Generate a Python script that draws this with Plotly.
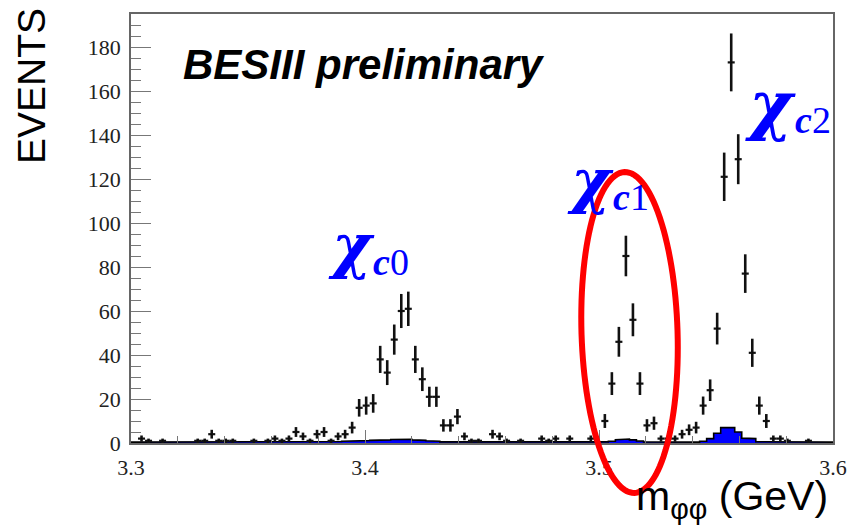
import numpy as np
import plotly.graph_objects as go

# Binning: 100 bins of 3 MeV from 3.3 to 3.6 GeV
x_lo, x_hi, n_bins = 3.3, 3.6, 100

# Event counts per bin (data points)
counts = [
    0, 2, 1, 0, 1, 0, 0, 0, 0, 1,
    1, 4, 1, 1, 1, 0, 0, 1, 0, 1,
    2, 1, 2, 5, 3, 1, 4, 5, 1, 3,
    4, 7, 16, 17, 18, 38, 32, 47, 60, 61,
    38, 29, 21, 21, 8, 8, 12, 3, 1, 1,
    0, 4, 3, 1, 0, 1, 0, 0, 2, 1,
    2, 0, 2, 0, 0, 2, 0, 10, 27, 46,
    85, 56, 27, 8, 9, 2, 2, 2, 4, 6,
    7, 17, 24, 52, 121, 173, 129, 77, 41, 17,
    10, 2, 2, 1, 0, 0, 1, 0, 0, 0,
]

# Background estimate per bin (filled histogram)
background = [
    0.4, 0.4, 0.4, 0.4, 0.4, 0.4, 0.4, 0.4, 0.4, 0.4,
    0.4, 0.4, 0.4, 0.4, 0.4, 0.4, 0.4, 0.4, 0.4, 0.4,
    0.4, 0.4, 0.4, 0.4, 0.4, 0.4, 0.4, 0.4, 0.6, 0.7,
    0.8, 0.9, 1.0, 1.1, 1.2, 1.3, 1.4, 1.6, 1.8, 1.7,
    1.4, 1.2, 1.0, 0.8, 0.5, 0.4, 0.4, 0.4, 0.4, 0.4,
    0.4, 0.4, 0.4, 0.4, 0.4, 0.4, 0.4, 0.4, 0.4, 0.4,
    0.4, 0.4, 0.4, 0.4, 0.4, 0.4, 0.4, 0.5, 0.8, 1.5,
    1.8, 1.4, 0.9, 0.5, 0.4, 0.4, 0.4, 0.4, 0.4, 0.4,
    0.4, 0.8, 2.0, 4.4, 7.0, 7.0, 5.0, 2.2, 2.0, 0.6,
    0.4, 0.4, 0.4, 0.4, 0.4, 0.4, 0.4, 0.4, 0.4, 0.4,
]

x_ticks = [3.3, 3.4, 3.5, 3.6]
y_ticks = [0, 20, 40, 60, 80, 100, 120, 140, 160, 180]

bin_w = (x_hi - x_lo) / n_bins
edges = x_lo + bin_w * np.arange(n_bins + 1)
centers = 0.5 * (edges[:-1] + edges[1:])
counts = np.array(counts, dtype=float)
background = np.array(background, dtype=float)

# Figure geometry (pixels)
W, H = 859, 527
ml, mr, mt, mb = 131, 19, 14, 84
pw, ph = W - ml - mr, H - mt - mb


def px(xp):
    return (xp - ml) / pw


def py(yp):
    return (H - mb - yp) / ph


fig = go.Figure()

# Background: step outline with blue fill
step_x = np.repeat(edges, 2)[1:-1]
step_y = np.repeat(background, 2)
fig.add_trace(go.Scatter(
    x=step_x, y=step_y, mode="lines",
    line=dict(color="black", width=1.6),
    fill="tozeroy", fillcolor="#0000ff",
    hoverinfo="skip", showlegend=False,
))

# Data points with Poisson errors
mask = counts > 0
fig.add_trace(go.Scatter(
    x=centers[mask], y=counts[mask], mode="markers",
    marker=dict(size=1, color="black"),
    error_y=dict(type="data", array=np.sqrt(counts[mask]), color="#111111",
                 thickness=2.6, width=0),
    error_x=dict(type="data", array=np.full(mask.sum(), bin_w / 2),
                 color="#111111", thickness=2.2, width=0),
    showlegend=False,
))

axis_common = dict(
    showline=True, linecolor="#666666", linewidth=1.6, mirror=True,
    ticks="inside", tickcolor="#777777", tickwidth=1.3,
    showgrid=False, zeroline=False,
    tickfont=dict(family="Liberation Serif", size=22, color="#222222"),
)

fig.update_xaxes(
    range=[x_lo, x_hi], tickvals=x_ticks, ticktext=[f"{v:.1f}" for v in x_ticks],
    ticklen=13, ticklabelstandoff=4,
    minor=dict(dtick=0.02, ticks="inside", ticklen=7, tickcolor="#777777", tickwidth=1.2),
    **axis_common,
)
fig.update_yaxes(
    range=[0, 195], tickvals=y_ticks, ticktext=[str(v) for v in y_ticks],
    ticklen=20, ticklabelstandoff=4,
    minor=dict(dtick=5, ticks="inside", ticklen=10, tickcolor="#777777", tickwidth=1.2),
    **axis_common,
)

annotations = [
    # y-axis title
    dict(text="EVENTS", x=px(31), y=py(86), textangle=-90, xanchor="center", yanchor="middle",
         font=dict(family="Liberation Sans", size=39, color="black")),
    # x-axis title
    dict(text="m<sub>φφ</sub> (GeV)", x=px(837), y=py(527), xanchor="right", yanchor="bottom",
         font=dict(family="Liberation Sans", size=41, color="black")),
    # experiment label
    dict(text="<b><i>BESIII preliminary</i></b>", x=px(182), y=py(65),
         xanchor="left", yanchor="middle",
         font=dict(family="Liberation Sans", size=42, color="black")),
]

# Resonance labels: chi glyph, then subscript
# (suffix, left edge px, vertical centre px, chi size, subscript offset px)
chi_labels = [("0", 330, 258, 60, 43), ("1", 571, 193, 60, 45), ("2", 751, 116, 66, 49)]
for sub, x0, yc, size, dx in chi_labels:
    annotations.append(dict(
        text="<b><i>χ</i></b>", x=px(x0 - 2), y=py(yc - 12), xanchor="left", yanchor="middle",
        font=dict(family="DejaVu Serif", size=size, color="#0000ff")))
    annotations.append(dict(
        text=f"<b><i>c</i></b>{sub}", x=px(x0 + dx), y=py(yc + 4), xanchor="left",
        yanchor="middle",
        font=dict(family="Liberation Serif", size=38, color="#0000ff")))

for a in annotations:
    a.update(xref="paper", yref="paper", showarrow=False)

# Slightly tilted red ellipse around the chi_c1 peak
t = np.linspace(0, 2 * np.pi, 121)
cx, cy, ra, rb, tilt = 634.5, 332.5, 48.5, 160.5, np.deg2rad(-1.8)
ex = cx + ra * np.cos(t) * np.cos(tilt) - rb * np.sin(t) * np.sin(tilt)
ey = cy + ra * np.cos(t) * np.sin(tilt) + rb * np.sin(t) * np.cos(tilt)
path = "M " + " L ".join(f"{px(a):.5f},{py(b):.5f}" for a, b in zip(ex, ey)) + " Z"

fig.update_layout(
    width=W, height=H,
    margin=dict(l=ml, r=mr, t=mt, b=mb),
    paper_bgcolor="white", plot_bgcolor="white",
    annotations=annotations,
    shapes=[dict(type="path", path=path, xref="paper", yref="paper",
                 line=dict(color="#ff0000", width=6), layer="above")],
)

fig.write_html("out.html")
